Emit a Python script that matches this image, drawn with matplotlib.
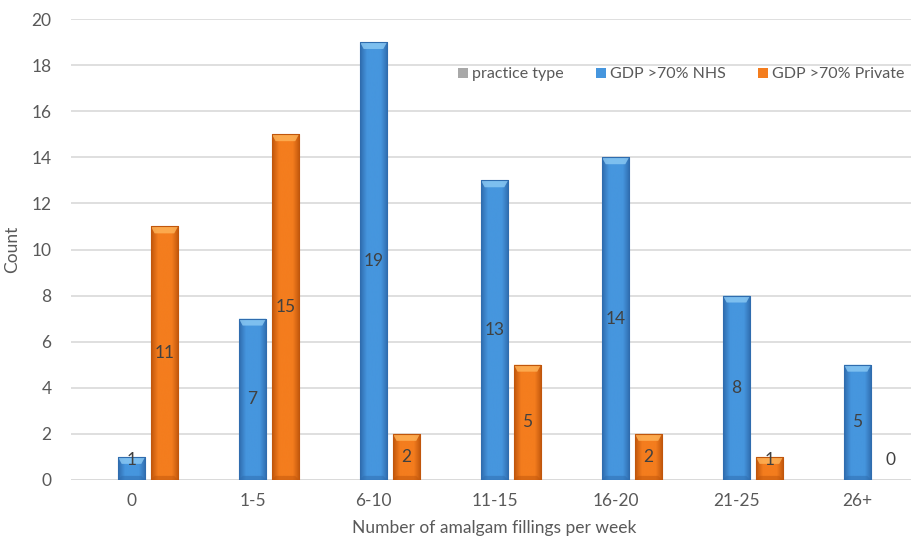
import matplotlib.pyplot as plt
import numpy as np
from matplotlib.patches import Polygon
from matplotlib.colors import LinearSegmentedColormap

plt.rcParams['font.family'] = ['Lato', 'DejaVu Sans']

categories = ['0', '1-5', '6-10', '11-15', '16-20', '21-25', '26+']
practice_type = [0, 0, 0, 0, 0, 0, 0]
nhs = [1, 7, 19, 13, 14, 8, 5]
private = [11, 15, 2, 5, 2, 1, 0]

text_col = '#595959'
fig = plt.figure(figsize=(9.11, 5.46), dpi=100)
ax = fig.add_axes([71 / 911, 66 / 546, 847 / 911, 461 / 546])

x = np.arange(len(categories))
w = 0.225
step = 0.272

# bevelled look: dark edges, flat centre, lighter top cap
styles = {
    'grey': ('#6e6e6e', '#a8a8a8', '#d0d0d0'),
    'blue': ('#2f6cae', '#4696de', '#8ccaf4'),
    'orange': ('#c0560c', '#f47d1e', '#ffb55a'),
}


def bevel_bars(xs, vals, key, label):
    dark, mid, light = styles[key]
    bars = ax.bar(xs, vals, w, color=mid, edgecolor='none', label=label, zorder=2)
    cmap = LinearSegmentedColormap.from_list(key, [dark, mid, mid, mid, dark])
    grad = np.linspace(0, 1, 64).reshape(1, -1)
    for b in bars:
        h = b.get_height()
        if h <= 0:
            continue
        x0, bw = b.get_x(), b.get_width()
        im = ax.imshow(grad, cmap=cmap, aspect='auto', extent=[x0, x0 + bw, 0, h],
                       zorder=3, interpolation='bicubic')
        im.set_clip_path(b)
        cap = min(0.3, h * 0.3)
        dx = bw * 0.14
        ax.add_patch(Polygon([[x0, h], [x0 + bw, h], [x0 + bw - dx, h - cap],
                              [x0 + dx, h - cap]], closed=True, color=light,
                             alpha=0.8, zorder=4, lw=0))
        ax.add_patch(Polygon([[x0, 0], [x0 + bw, 0], [x0 + bw - dx, cap * 0.6],
                              [x0 + dx, cap * 0.6]], closed=True, color=dark,
                             alpha=0.5, zorder=4, lw=0))
        ax.add_patch(plt.Rectangle((x0, 0), bw, h, fill=False, ec=dark, lw=0.8, zorder=5))
    return bars


bevel_bars(x - step, practice_type, 'grey', 'practice type')
bevel_bars(x, nhs, 'blue', 'GDP >70% NHS')
bevel_bars(x + step, private, 'orange', 'GDP >70% Private')

# value labels centred in the bars
for xs, vals in ((x, nhs), (x + step, private)):
    for xi, v in zip(xs, vals):
        ax.text(xi, max(v / 2, 0.85), str(v), ha='center', va='center',
                fontsize=12.5, color='#404040', zorder=6)

ax.set_xlim(-0.5, len(categories) - 0.5)
ax.set_ylim(0, 20)
ax.set_yticks(range(0, 21, 2))
ax.set_xticks(x)
ax.set_xticklabels(categories)
ax.yaxis.grid(True, color='#d9d9d9', lw=1.2, zorder=0)
ax.set_axisbelow(True)
for s in ax.spines.values():
    s.set_visible(False)
ax.axhline(0, color='#d9d9d9', lw=1.2, zorder=1)
ax.tick_params(length=0, labelsize=12.5, labelcolor=text_col, pad=9)
ax.tick_params(axis='y', pad=14)

ax.set_xlabel('Number of amalgam fillings per week', fontsize=12.5, color=text_col, labelpad=8)
ax.set_ylabel('Count', fontsize=12.5, color=text_col, labelpad=8)

ax.legend(loc='upper left', bbox_to_anchor=(0.44, 0.926), ncol=3, frameon=False,
          handlelength=0.6, handleheight=0.6, handletextpad=0.3, columnspacing=2.0,
          fontsize=11.5, labelcolor=text_col)

fig.savefig('out.png', dpi=100)
